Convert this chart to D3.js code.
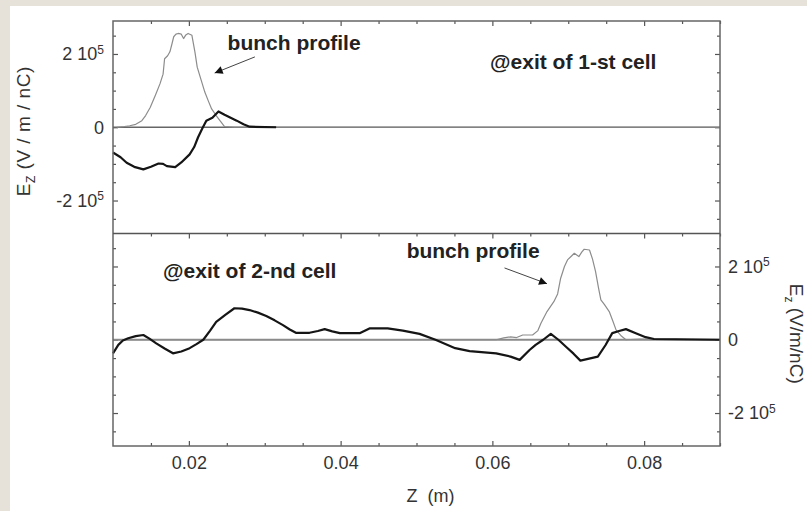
<!DOCTYPE html>
<html>
<head>
<meta charset="utf-8">
<script src="https://cdn.jsdelivr.net/npm/d3@7"></script>
<style>
  body { margin: 0; background: #e7e2d9; }
  svg { display: block; font-family: "Liberation Sans", Arial, sans-serif; }
  .axis path { display: none; }
  .axis line { stroke: #555; stroke-width: 1.2; }
  .axis text { font-size: 18px; fill: #333; font-family: "Liberation Sans", Arial, sans-serif; }
</style>
</head>
<body>
<div id="graph"></div>
<script>
// data (Z in m, Ez in V/m/nC)
const topBunchZ = [0.0105, 0.0115, 0.0122, 0.0130, 0.0138, 0.0143, 0.0149, 0.0156, 0.0162, 0.0166, 0.0168, 0.0172, 0.0175, 0.0178, 0.0180, 0.0183, 0.0186, 0.0190, 0.0193, 0.0196, 0.0199, 0.0204, 0.0208, 0.0211, 0.0216, 0.0221, 0.0226, 0.0230, 0.0236, 0.0241, 0.0247, 0.0260, 0.0300, 0.0900];
const topBunchV = [0, 2e3, 4e3, 8e3, 1.8e4, 3.2e4, 5.4e4, 8.8e4, 1.19e5, 1.45e5, 1.87e5, 1.95e5, 2.06e5, 2.3e5, 2.47e5, 2.54e5, 2.56e5, 2.54e5, 2.42e5, 2.52e5, 2.56e5, 2.51e5, 2.05e5, 1.64e5, 1.3e5, 9.6e4, 7e4, 5e4, 3.2e4, 1.8e4, 2e3, 0, 0, 0];

const topWakeZ = [0.0100, 0.0110, 0.0118, 0.0128, 0.0140, 0.0150, 0.0160, 0.0166, 0.0171, 0.0182, 0.0190, 0.0201, 0.0207, 0.0212, 0.0218, 0.0223, 0.0231, 0.0239, 0.0247, 0.0255, 0.0263, 0.0272, 0.0280, 0.0315];
const topWakeV = [-6.9e4, -8.2e4, -9.7e4, -1.08e5, -1.15e5, -1.08e5, -9.9e4, -1.0e5, -1.06e5, -1.09e5, -9.6e4, -7.4e4, -5.4e4, -2.8e4, -2e3, 1.8e4, 2.6e4, 4.3e4, 3.4e4, 2.6e4, 1.8e4, 8e3, 1.5e3, 0];

const botWakeZ = [0.0100, 0.0107, 0.0113, 0.0120, 0.0130, 0.0140, 0.0148, 0.0157, 0.0168, 0.0179, 0.0190, 0.0201, 0.0210, 0.0219, 0.0228, 0.0236, 0.0248, 0.0260, 0.0270, 0.0280, 0.0291, 0.0302, 0.0313, 0.0324, 0.0333, 0.0341, 0.0359, 0.0370, 0.0379, 0.0389, 0.0399, 0.0425, 0.0438, 0.0462, 0.0482, 0.0504, 0.0525, 0.0551, 0.0570, 0.0605, 0.0624, 0.0636, 0.0649, 0.0657, 0.0667, 0.0677, 0.0687, 0.0697, 0.0707, 0.0716, 0.0739, 0.0749, 0.0758, 0.0767, 0.0776, 0.0789, 0.0802, 0.0813, 0.0900];
const botWakeV = [-3.7e4, -1.4e4, -2e3, 4e3, 1e4, 1.3e4, 3e3, -1e4, -2.4e4, -3.7e4, -3.2e4, -2.3e4, -1.2e4, 0, 2.5e4, 4.9e4, 6.8e4, 8.6e4, 8.5e4, 8.1e4, 7.4e4, 6.5e4, 5.3e4, 4e4, 2.8e4, 1.9e4, 1.9e4, 2.4e4, 2.9e4, 2.3e4, 1.8e4, 1.8e4, 3.1e4, 3.1e4, 2.5e4, 1.6e4, 0, -2.3e4, -3.1e4, -3.7e4, -4.6e4, -5.5e4, -2.8e4, -1.4e4, 0, 1.6e4, 0, -1.9e4, -3.8e4, -5.7e4, -4.6e4, -1.5e4, 1.8e4, 2.4e4, 2.9e4, 1.8e4, 7e3, 2e3, 0];

const botBunchZ = [0.0100, 0.0605, 0.0615, 0.0624, 0.0632, 0.0640, 0.0653, 0.0660, 0.0664, 0.0672, 0.0681, 0.0686, 0.0690, 0.0695, 0.0699, 0.0704, 0.0708, 0.0714, 0.0718, 0.0721, 0.0728, 0.0732, 0.0736, 0.0740, 0.0743, 0.0748, 0.0754, 0.0759, 0.0763, 0.0770, 0.0776, 0.0794, 0.0900];
const botBunchV = [0, 0, 5e3, 8e3, 6e3, 1.3e4, 1.3e4, 2.5e4, 4.5e4, 7.7e4, 1.04e5, 1.25e5, 1.68e5, 2e5, 2.18e5, 2.28e5, 2.36e5, 2.27e5, 2.4e5, 2.47e5, 2.45e5, 2.2e5, 1.86e5, 1.4e5, 1.09e5, 9.5e4, 7.7e4, 5e4, 2.7e4, 1e4, 0, 2e3, 0];

const xMajor = [0.02, 0.04, 0.06, 0.08];
const yMajor = [-2e5, 0, 2e5];

// annotations: [text, z, Ez]
const topTexts = [["bunch profile", 0.0251, 2.11e5], ["@exit of 1-st cell", 0.0597, 1.59e5]];
const botTexts = [["@exit of 2-nd cell", 0.0166, 1.69e5], ["bunch profile", 0.0487, 2.24e5]];
// arrows: [z0, v0, z1, v1] tail -> head
const topArrow = [0.0287, 1.92e5, 0.0234, 1.48e5];
const botArrow = [0.0616, 1.96e5, 0.0672, 1.53e5];

const width = 807, height = 511;
const pad = {left: 113, right: 720, top: 21, bottom: 446};
const mid = (pad.top + pad.bottom) / 2;

const svg = d3.select("div#graph").append("svg")
	.attr("width", width)
	.attr("height", height);

svg.append("rect").attr("x", 10).attr("y", 6)
	.attr("width", width - 10).attr("height", height - 6)
	.attr("fill", "#fff");

const xScale = d3.scaleLinear().domain([0.01, 0.09]).range([pad.left, pad.right]);
const yTop = d3.scaleLinear().domain([-2.9e5, 2.9e5]).range([mid, pad.top]);
const yBot = d3.scaleLinear().domain([-2.9e5, 2.9e5]).range([pad.bottom, mid]);

const xMinor = d3.range(0.015, 0.0901, 0.005).filter(v => !xMajor.some(m => Math.abs(m - v) < 1e-6));
const yMinor = d3.range(-2.5e5, 2.51e5, 5e4).filter(v => !yMajor.includes(Math.round(v)));

function powLabel(sel) {
	sel.each(function(d) {
		const t = d3.select(this);
		t.text(null);
		if (d === 0) { t.text("0"); return; }
		t.append("tspan").text((d < 0 ? "-" : "") + Math.abs(d / 1e5) + " 10");
		t.append("tspan").attr("dy", "-0.55em").style("font-size", "12px").text("5");
	});
}

function panel(yScale, labelSide) {
	// x ticks at top of panel, pointing inward
	const y0 = yScale.range()[1];
	svg.append("g").attr("class", "axis").attr("transform", `translate(0,${y0})`)
		.call(d3.axisBottom(xScale).tickValues(xMajor).tickSize(5).tickFormat(""));
	svg.append("g").attr("class", "axis").attr("transform", `translate(0,${y0})`)
		.call(d3.axisBottom(xScale).tickValues(xMinor).tickSize(3).tickFormat(""));

	const lMaj = d3.axisLeft(yScale).tickValues(yMajor).tickSizeInner(-5).tickPadding(9);
	const rMaj = d3.axisRight(yScale).tickValues(yMajor).tickSizeInner(-5).tickPadding(8);
	const gl = svg.append("g").attr("class", "axis").attr("transform", `translate(${pad.left},0)`)
		.call(labelSide === "left" ? lMaj : lMaj.tickFormat(""));
	const gr = svg.append("g").attr("class", "axis").attr("transform", `translate(${pad.right},0)`)
		.call(labelSide === "right" ? rMaj : rMaj.tickFormat(""));
	(labelSide === "left" ? gl : gr).selectAll(".tick text").call(powLabel);
	svg.append("g").attr("class", "axis").attr("transform", `translate(${pad.left},0)`)
		.call(d3.axisLeft(yScale).tickValues(yMinor).tickSizeInner(-3).tickFormat(""));
	svg.append("g").attr("class", "axis").attr("transform", `translate(${pad.right},0)`)
		.call(d3.axisRight(yScale).tickValues(yMinor).tickSizeInner(-3).tickFormat(""));
}

panel(yTop, "left");
panel(yBot, "right");

// bottom x axis (ticks up, labels below)
svg.append("g").attr("class", "axis").attr("transform", `translate(0,${pad.bottom})`)
	.call(d3.axisBottom(xScale).tickValues(xMajor).tickSizeInner(-5).tickPadding(10).tickFormat(d3.format(".2f")));
svg.append("g").attr("class", "axis").attr("transform", `translate(0,${pad.bottom})`)
	.call(d3.axisBottom(xScale).tickValues(xMinor).tickSizeInner(-3).tickFormat(""));

// zero lines
svg.append("line").attr("x1", pad.left).attr("x2", pad.right)
	.attr("y1", yTop(0)).attr("y2", yTop(0))
	.attr("stroke", "#666").attr("stroke-width", 1.5);
svg.append("line").attr("x1", pad.left).attr("x2", pad.right)
	.attr("y1", yBot(0)).attr("y2", yBot(0))
	.attr("stroke", "#8a8a8a").attr("stroke-width", 2);

function curve(zs, vs, yScale, color, w) {
	const line = d3.line().x(d => xScale(d[0])).y(d => yScale(d[1]));
	svg.append("path").datum(d3.zip(zs, vs))
		.attr("fill", "none")
		.attr("stroke", color)
		.attr("stroke-width", w)
		.attr("stroke-linejoin", "round")
		.attr("d", line);
}

curve(topBunchZ, topBunchV, yTop, "#8c8c8c", 1.2);
curve(topWakeZ, topWakeV, yTop, "#151515", 2.2);
curve(botBunchZ, botBunchV, yBot, "#8c8c8c", 1.2);
curve(botWakeZ, botWakeV, yBot, "#151515", 2.2);

// frames
svg.append("rect").attr("x", pad.left).attr("y", pad.top)
	.attr("width", pad.right - pad.left).attr("height", pad.bottom - pad.top)
	.attr("fill", "none").attr("stroke", "#666").attr("stroke-width", 1.5);
svg.append("line").attr("x1", pad.left).attr("x2", pad.right).attr("y1", mid).attr("y2", mid)
	.attr("stroke", "#555").attr("stroke-width", 1.5);

// annotations
svg.append("defs").append("marker")
	.attr("id", "head").attr("viewBox", "0 0 10 10")
	.attr("refX", 10).attr("refY", 5)
	.attr("markerWidth", 10).attr("markerHeight", 8)
	.attr("markerUnits", "userSpaceOnUse")
	.attr("orient", "auto")
	.append("path").attr("d", "M0,0 L10,5 L0,10 Z").attr("fill", "#111");

function notes(texts, arrow, yScale) {
	texts.forEach(t => {
		svg.append("text").attr("x", xScale(t[1])).attr("y", yScale(t[2]))
			.attr("font-size", 21).attr("font-weight", "bold").attr("fill", "#222")
			.text(t[0]);
	});
	svg.append("line")
		.attr("x1", xScale(arrow[0])).attr("y1", yScale(arrow[1]))
		.attr("x2", xScale(arrow[2])).attr("y2", yScale(arrow[3]))
		.attr("stroke", "#444").attr("stroke-width", 1)
		.attr("marker-end", "url(#head)");
}
notes(topTexts, topArrow, yTop);
notes(botTexts, botArrow, yBot);

// axis titles
svg.append("text").attr("x", (pad.left + pad.right) / 2 - 10).attr("y", 502)
	.attr("font-size", 18).attr("fill", "#333").attr("xml:space", "preserve")
	.text("Z  (m)");

const lt = svg.append("text").attr("transform", `translate(30,${(pad.top + mid) / 2 + 4}) rotate(-90)`)
	.attr("text-anchor", "middle").attr("font-size", 19).attr("fill", "#333")
	.style("letter-spacing", "0.5px");
lt.append("tspan").text("E");
lt.append("tspan").attr("dy", 5).style("font-size", "12px").text("Z");
lt.append("tspan").attr("dy", -5).text(" (V / m / nC)");

const rt = svg.append("text").attr("transform", `translate(790,${(mid + pad.bottom) / 2 - 6}) rotate(90)`)
	.attr("text-anchor", "middle").attr("font-size", 19).attr("fill", "#333");
rt.append("tspan").text("E");
rt.append("tspan").attr("dy", 5).style("font-size", "12px").text("z");
rt.append("tspan").attr("dy", -5).text(" (V/m/nC)");
</script>
</body>
</html>
